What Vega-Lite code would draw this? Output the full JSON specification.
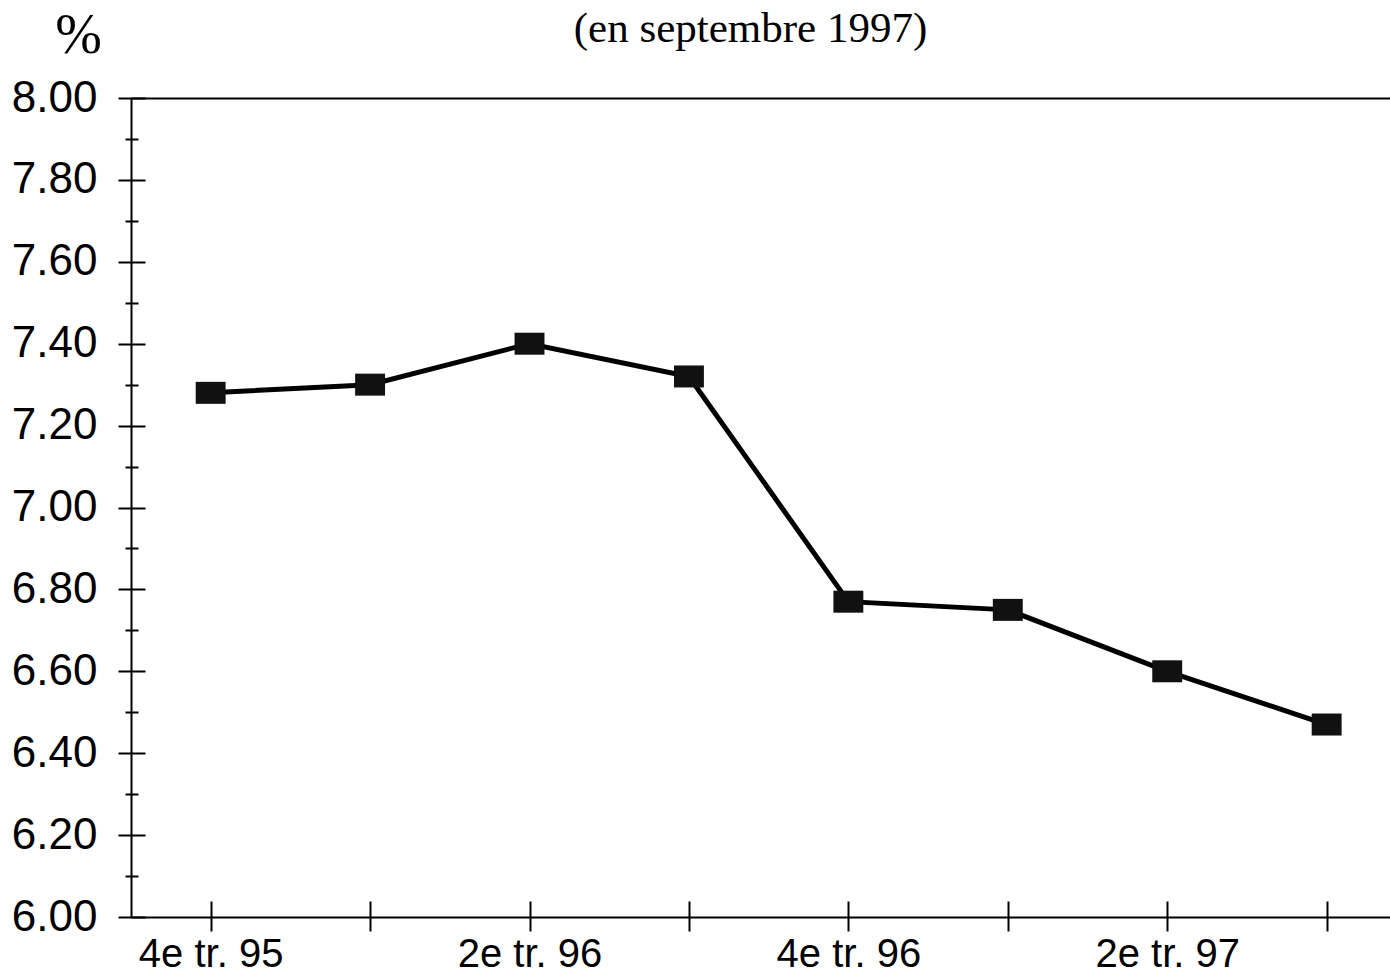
{
  "$schema": "https://vega.github.io/schema/vega-lite/v6.json",
  "autosize": {"type": "none"},
  "padding": {"left": 131, "top": 98, "right": 0, "bottom": 56},
  "width": 1259,
  "height": 819,
  "background": "white",
  "config": {"view": {"stroke": null}},
  "data": {
    "values": [
      {"trimestre": "4e tr. 95", "taux": 7.28},
      {"trimestre": "1er tr. 96", "taux": 7.30},
      {"trimestre": "2e tr. 96", "taux": 7.40},
      {"trimestre": "3e tr. 96", "taux": 7.32},
      {"trimestre": "4e tr. 96", "taux": 6.77},
      {"trimestre": "1er tr. 97", "taux": 6.75},
      {"trimestre": "2e tr. 97", "taux": 6.60},
      {"trimestre": "3e tr. 97", "taux": 6.47}
    ]
  },
  "encoding": {
    "x": {
      "field": "trimestre",
      "type": "ordinal",
      "sort": null,
      "scale": {"type": "point", "padding": 0.4485, "align": 0.557},
      "axis": {
        "title": "(en septembre 1997)",
        "titleFont": "Liberation Serif",
        "titleFontSize": 43,
        "titleFontWeight": "normal",
        "titleColor": "black",
        "titleX": 619,
        "titleY": -876,
        "titleAlign": "center",
        "titleBaseline": "alphabetic",
        "labelAngle": 0,
        "labelFont": "Liberation Sans",
        "labelFontSize": 40,
        "labelColor": "black",
        "labelPadding": 3,
        "labelExpr": "indexof(['4e tr. 95','2e tr. 96','4e tr. 96','2e tr. 97'], datum.value) >= 0 ? datum.value : ''",
        "domainColor": "black",
        "domainWidth": 2,
        "tickColor": "black",
        "tickWidth": 2,
        "tickSize": 14,
        "grid": false,
        "encoding": {"ticks": {"y": {"value": -16}}}
      }
    },
    "y": {
      "field": "taux",
      "type": "quantitative",
      "scale": {"domain": [6, 8], "nice": false, "zero": false},
      "axis": {
        "title": "%",
        "titleFont": "Liberation Serif",
        "titleFontSize": 56,
        "titleFontWeight": "normal",
        "titleColor": "black",
        "titleAngle": 0,
        "titleX": -53,
        "titleY": -46,
        "titleAlign": "center",
        "titleBaseline": "alphabetic",
        "values": [6, 6.1, 6.2, 6.3, 6.4, 6.5, 6.6, 6.7, 6.8, 6.9, 7, 7.1, 7.2, 7.3, 7.4, 7.5, 7.6, 7.7, 7.8, 7.9, 8],
        "labelExpr": "round(datum.value * 10) % 2 == 0 ? format(datum.value, '.2f') : ''",
        "labelFont": "Liberation Sans",
        "labelFontSize": 44,
        "labelColor": "black",
        "labelPadding": 21,
        "labelOverlap": false,
        "domainColor": "black",
        "domainWidth": 2,
        "tickColor": "black",
        "tickWidth": 2,
        "tickSize": 13,
        "grid": true,
        "gridColor": "black",
        "gridWidth": 2,
        "gridOpacity": {"condition": {"test": "datum.value >= 7.99", "value": 1}, "value": 0},
        "encoding": {
          "ticks": {
            "x": {"condition": {"test": "round(datum.value * 10) % 2 == 0", "value": 14}, "value": 7},
            "x2": {"condition": {"test": "round(datum.value * 10) % 2 == 0", "value": -13}, "value": -6}
          }
        }
      }
    }
  },
  "layer": [
    {"mark": {"type": "line", "color": "black", "strokeWidth": 5}},
    {"mark": {"type": "point", "shape": "M-1.36,-1H1.36V1H-1.36Z", "size": 484, "filled": true, "color": "#111111", "opacity": 1}}
  ]
}
